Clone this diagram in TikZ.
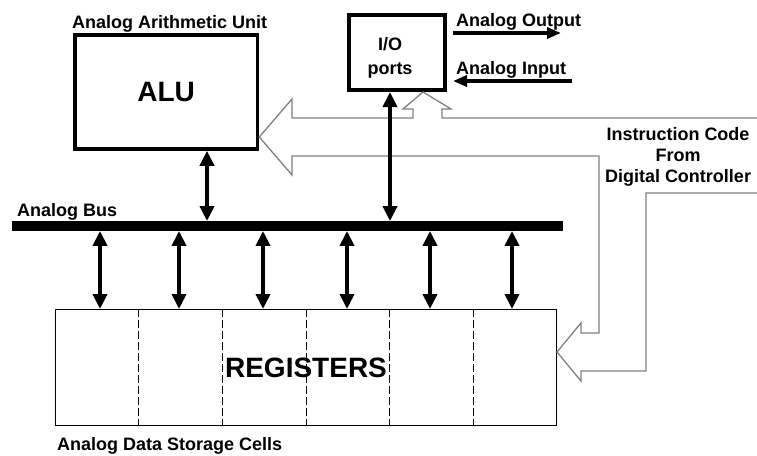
\documentclass[tikz,border=0pt]{standalone}
\usepackage{fontspec}
\setmainfont{Liberation Sans}
\usetikzlibrary{arrows.meta,calc}
\begin{document}
\begin{tikzpicture}[x=1pt,y=-1pt,
  lbl/.style={font=\fontsize{18}{21}\selectfont\bfseries, inner sep=0pt},
  bigtxt/.style={font=\fontsize{28}{32}\selectfont\bfseries},
  thickbox/.style={draw, line width=3.6pt, inner sep=0pt},
  busarrow/.style={line width=4.5pt, {Triangle[length=15pt,width=14pt]}-{Triangle[length=15pt,width=14pt]}},
  sigarrow/.style={line width=4.5pt, -{Triangle[length=14pt,width=11pt]}},
  hollow/.style={draw=black!50, line width=1.3pt, line join=miter},
  divider/.style={dash pattern=on 8pt off 3pt, line width=0.8pt}]
\useasboundingbox (0,0) rectangle (757,455);

% boxes
\node[thickbox, minimum width=182.7pt, minimum height=114.2pt, bigtxt] (alu) at (166.15,91.9) {ALU};
\node[thickbox, line width=4pt, minimum width=96.3pt, minimum height=75.3pt] (io) at (396.85,52.35) {};
\node[font=\fontsize{18}{24}\selectfont\bfseries, align=center, inner sep=0pt] (iotxt) at (390,57.5) {I/O\\ports};
\node[draw, line width=1.2pt, minimum width=500.8pt, minimum height=115.8pt, inner sep=0pt, bigtxt] (reg) at (306,367.5) {REGISTERS};
\foreach \i in {1,...,5}
  \draw[divider] ($(reg.north west)!\i/6!(reg.north east)$) -- ($(reg.south west)!\i/6!(reg.south east)$);
\node[fill=black, inner sep=0pt, minimum width=551pt, minimum height=9.5pt] (bus) at (287.5,226) {};

% labels
\node[lbl, anchor=base west] (tAAU) at (72,28) {Analog Arithmetic Unit};
\node[lbl, anchor=base west] (tBus) at (17,216) {Analog Bus};
\node[lbl, anchor=base west] (tOut) at (456,26.5) {Analog Output};
\node[lbl, anchor=base west] (tIn) at (456,74) {Analog Input};
\node[lbl, anchor=base west] (tCells) at (57,450) {Analog Data Storage Cells};
\node[lbl, align=center] (instr) at (678,156.5) {Instruction Code\\From\\Digital Controller};

% hollow instruction arrow
\coordinate (xio) at (423,0);
\coordinate (yalu) at (0,137);
\coordinate (yreg) at (0,352);
\draw[hollow] (757,118) -- (442,118) -- (442,109) -- (451,109) -- (io.south -| xio)
  -- (403,109) -- (413,109) -- (413,118) -- (292,118) -- (292,99) -- (alu.east |- yalu)
  -- (292,175) -- (292,156) -- (599,156) -- (599,333) -- (581,333) -- (581,323)
  -- (reg.east |- yreg) -- (581,381) -- (581,371) -- (646,371) -- (646,193) -- (757,193);

% bus connections
\coordinate (xa) at (207,0);
\coordinate (xb) at (390,0);
\draw[busarrow] (alu.south -| xa) -- (bus.north -| xa);
\draw[busarrow] (io.south -| xb) -- (bus.north -| xb);
\foreach \x in {100,179,263,347,430,512} {
  \coordinate (c) at (\x,0);
  \draw[busarrow] (bus.south -| c) -- (reg.north -| c);
}

% analog in/out
\coordinate (ao1) at (453,33);
\coordinate (ao2) at (561,33);
\coordinate (ai1) at (572,81);
\coordinate (ai2) at (453,81);
\draw[sigarrow] (ao1) -- (ao2);
\draw[sigarrow] (ai1) -- (ai2);
\end{tikzpicture}
\end{document}
